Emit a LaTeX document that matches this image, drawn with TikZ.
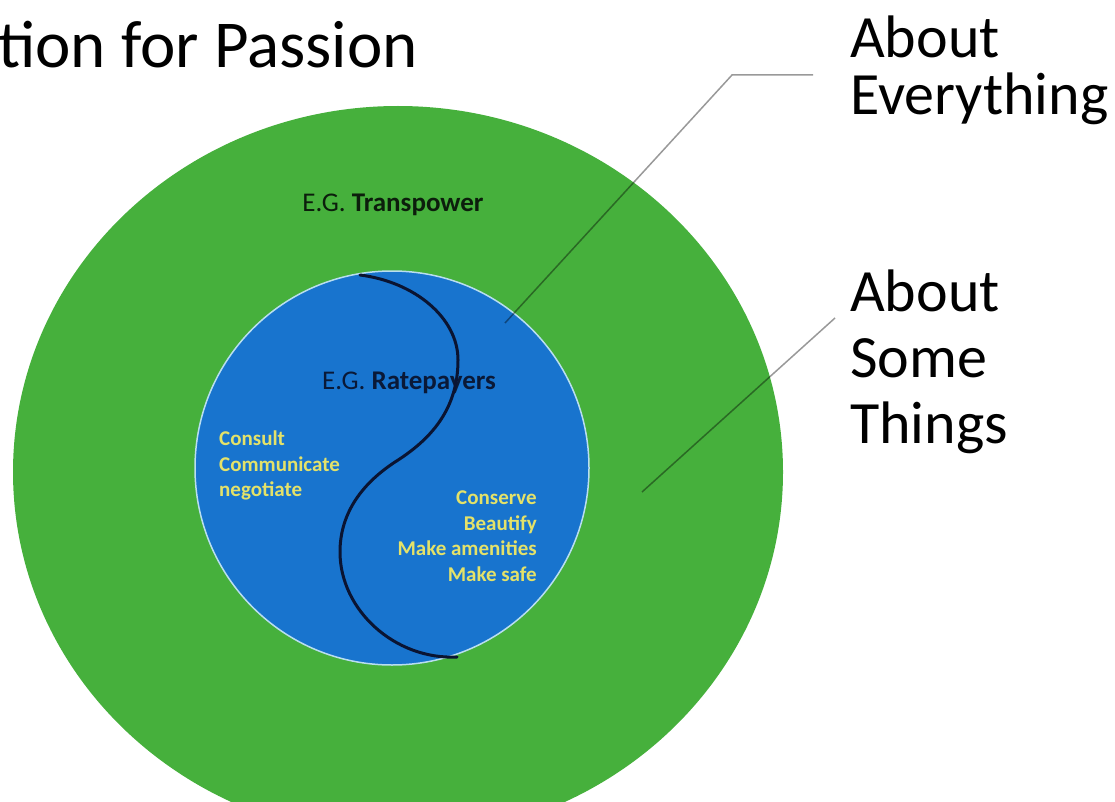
\documentclass[tikz,border=0pt]{standalone}
\usepackage{fontspec}
\setmainfont{Carlito}
\usetikzlibrary{shapes.geometric}
\definecolor{ringgreen}{RGB}{70,176,60}
\definecolor{innerblue}{RGB}{24,116,206}
\definecolor{rimblue}{RGB}{185,222,240}
\definecolor{curvenavy}{RGB}{10,20,50}
\definecolor{labelyellow}{RGB}{228,226,105}
\definecolor{greentext}{RGB}{12,30,12}
\definecolor{bluetext}{RGB}{10,25,55}
\tikzset{
  callout/.style={draw=black, draw opacity=0.4, line width=1.5pt},
  divider/.style={draw=curvenavy, line width=3pt, line cap=round},
  biglabel/.style={font=\fontsize{60}{57}\selectfont, inner sep=0pt, align=left, anchor=north west},
  eglabel/.style={font=\fontsize{27}{32}\selectfont, inner sep=0pt},
  actlabel/.style={font=\fontsize{21}{25.5}\selectfont\bfseries, text=labelyellow, inner sep=0pt},
}
\begin{document}
\begin{tikzpicture}[x=1pt,y=-1pt]
\useasboundingbox (0,0) rectangle (1115,802);
\clip (0,0) rectangle (1115,802);
% rings
\node[ellipse, fill=ringgreen, minimum width=770pt, minimum height=732pt, inner sep=0pt] (outer) at (398,472) {};
\node[circle, fill=innerblue, draw=rimblue, line width=1.5pt, minimum size=394pt, inner sep=0pt] (inner) at (392,468) {};
% title
\node[font=\fontsize{67}{72}\selectfont, inner sep=0pt, anchor=base west] (title) at (-2,68) {tion for Passion};
% labels in rings
\node[eglabel, text=greentext] (transpower) at (393,205) {E.G. \textbf{Transpower}};
\node[eglabel, text=bluetext] (ratepayers) at (409,383) {E.G. \textbf{Ratepayers}};
\node[actlabel, align=left, anchor=north west] (left) at (219,431) {Consult\\Communicate\\negotiate};
\node[actlabel, align=right, anchor=north east] (right) at (537,491) {Conserve\\Beautify\\Make amenities\\Make safe};
% divider curve
\coordinate (s0) at (360,275);
\coordinate (s1) at (458,360);
\coordinate (s2) at (395,462);
\coordinate (s3) at (340,552);
\coordinate (s4) at (457,657);
\draw[divider] (s0) .. controls (415,282) and (458,318) .. (s1)
  .. controls (458,410) and (430,440) .. (s2)
  .. controls (360,485) and (340,515) .. (s3)
  .. controls (340,610) and (395,660) .. (s4);
% right labels
\node[biglabel] (everything) at (850,16) {About\\Everything};
\node[biglabel, font=\fontsize{60}{66}\selectfont] (some) at (850,270) {About\\Some\\Things};
% callouts
\coordinate (c1a) at (505,323);
\coordinate (c1b) at (732,75);
\coordinate (c1c) at (813,75);
\draw[callout] (c1a) -- (c1b) -- (c1c);
\coordinate (c2a) at (642,492);
\coordinate (c2b) at (835,318);
\draw[callout] (c2a) -- (c2b);
\end{tikzpicture}
\end{document}
